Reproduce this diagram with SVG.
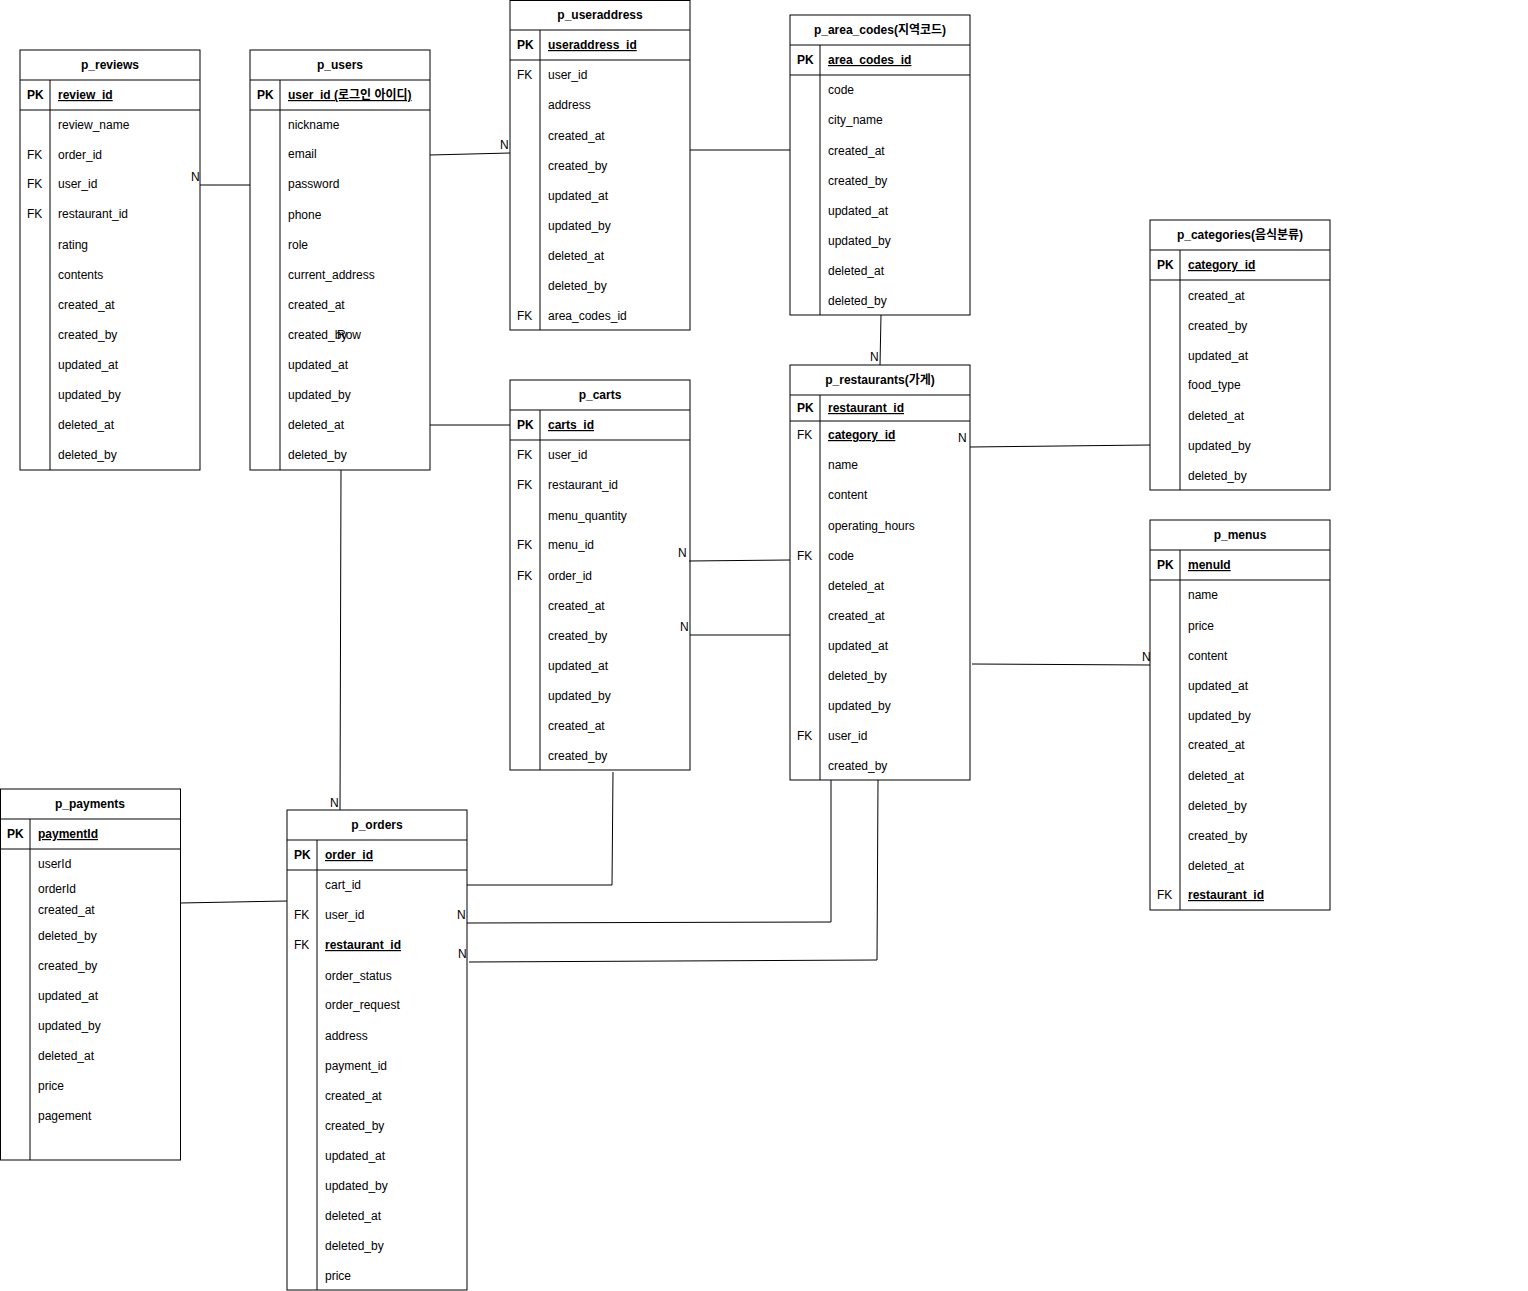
<svg xmlns="http://www.w3.org/2000/svg" width="1528" height="1291" viewBox="0 0 1528 1291">
<style>
text{font-family:"Liberation Sans","Noto Sans CJK KR",Arial,sans-serif;font-size:12px;fill:#000}
.t{font-weight:bold;text-anchor:middle}
.pk{font-weight:bold}
.u{text-decoration:underline}
.b{fill:#fff;stroke:#000;stroke-width:1}
.l{stroke:#000;stroke-width:1;fill:none}
.c{stroke:#000;stroke-width:1;fill:none}
</style>
<rect width="1528" height="1291" fill="#fff"/>
<g id="p_reviews">
<rect class="b" x="20" y="50" width="180" height="420"/>
<path class="l" d="M20 80H200M20 110H200M50 80V470"/>
<text class="t" x="110" y="69">p_reviews</text>
<text class="pk" x="27" y="99">PK</text><text class="pk u" x="58" y="99">review_id</text>
<text x="58" y="129">review_name</text>
<text x="27" y="159">FK</text><text x="58" y="159">order_id</text>
<text x="27" y="188">FK</text><text x="58" y="188">user_id</text>
<text x="27" y="218">FK</text><text x="58" y="218">restaurant_id</text>
<text x="58" y="249">rating</text>
<text x="58" y="279">contents</text>
<text x="58" y="309">created_at</text>
<text x="58" y="339">created_by</text>
<text x="58" y="369">updated_at</text>
<text x="58" y="399">updated_by</text>
<text x="58" y="429">deleted_at</text>
<text x="58" y="459">deleted_by</text>
</g>
<g id="p_users">
<rect class="b" x="250" y="50" width="180" height="420"/>
<path class="l" d="M250 80H430M250 110H430M280 80V470"/>
<text class="t" x="340" y="69">p_users</text>
<text class="pk" x="257" y="99">PK</text><text class="pk u" x="288" y="99">user_id (로그인 아이디)</text>
<text x="288" y="129">nickname</text>
<text x="288" y="158">email</text>
<text x="288" y="188">password</text>
<text x="288" y="219">phone</text>
<text x="288" y="249">role</text>
<text x="288" y="279">current_address</text>
<text x="288" y="309">created_at</text>
<text x="288" y="339">created_by</text><text x="337" y="339">Row</text>
<text x="288" y="369">updated_at</text>
<text x="288" y="399">updated_by</text>
<text x="288" y="429">deleted_at</text>
<text x="288" y="459">deleted_by</text>
</g>
<g id="p_useraddress">
<rect class="b" x="510" y="0.5" width="180" height="329.5"/>
<path class="l" d="M510 30H690M510 60H690M540 30V330"/>
<text class="t" x="600" y="19">p_useraddress</text>
<text class="pk" x="517" y="49">PK</text><text class="pk u" x="548" y="49">useraddress_id</text>
<text x="517" y="79">FK</text><text x="548" y="79">user_id</text>
<text x="548" y="109">address</text>
<text x="548" y="140">created_at</text>
<text x="548" y="170">created_by</text>
<text x="548" y="200">updated_at</text>
<text x="548" y="230">updated_by</text>
<text x="548" y="260">deleted_at</text>
<text x="548" y="290">deleted_by</text>
<text x="517" y="320">FK</text><text x="548" y="320">area_codes_id</text>
</g>
<g id="p_area_codes">
<rect class="b" x="790" y="15" width="180" height="300"/>
<path class="l" d="M790 45H970M790 75H970M820 45V315"/>
<text class="t" x="880" y="34">p_area_codes(지역코드)</text>
<text class="pk" x="797" y="64">PK</text><text class="pk u" x="828" y="64">area_codes_id</text>
<text x="828" y="94">code</text>
<text x="828" y="124">city_name</text>
<text x="828" y="155">created_at</text>
<text x="828" y="185">created_by</text>
<text x="828" y="215">updated_at</text>
<text x="828" y="245">updated_by</text>
<text x="828" y="275">deleted_at</text>
<text x="828" y="305">deleted_by</text>
</g>
<g id="p_categories">
<rect class="b" x="1150" y="220" width="180" height="270"/>
<path class="l" d="M1150 250H1330M1150 280H1330M1180 250V490"/>
<text class="t" x="1240" y="239">p_categories(음식분류)</text>
<text class="pk" x="1157" y="269">PK</text><text class="pk u" x="1188" y="269">category_id</text>
<text x="1188" y="300">created_at</text>
<text x="1188" y="330">created_by</text>
<text x="1188" y="360">updated_at</text>
<text x="1188" y="389">food_type</text>
<text x="1188" y="420">deleted_at</text>
<text x="1188" y="450">updated_by</text>
<text x="1188" y="480">deleted_by</text>
</g>
<g id="p_restaurants">
<rect class="b" x="790" y="365" width="180" height="415"/>
<path class="l" d="M790 395H970M790 421H970M820 395V780"/>
<text class="t" x="880" y="384">p_restaurants(가게)</text>
<text class="pk" x="797" y="412">PK</text><text class="pk u" x="828" y="412">restaurant_id</text>
<text x="797" y="439">FK</text><text class="pk u" x="828" y="439">category_id</text>
<text x="828" y="469">name</text>
<text x="828" y="499">content</text>
<text x="828" y="530">operating_hours</text>
<text x="797" y="560">FK</text><text x="828" y="560">code</text>
<text x="828" y="590">deteled_at</text>
<text x="828" y="620">created_at</text>
<text x="828" y="650">updated_at</text>
<text x="828" y="680">deleted_by</text>
<text x="828" y="710">updated_by</text>
<text x="797" y="740">FK</text><text x="828" y="740">user_id</text>
<text x="828" y="770">created_by</text>
</g>
<g id="p_carts">
<rect class="b" x="510" y="380" width="180" height="390"/>
<path class="l" d="M510 410H690M510 440H690M540 410V770"/>
<text class="t" x="600" y="399">p_carts</text>
<text class="pk" x="517" y="429">PK</text><text class="pk u" x="548" y="429">carts_id</text>
<text x="517" y="459">FK</text><text x="548" y="459">user_id</text>
<text x="517" y="489">FK</text><text x="548" y="489">restaurant_id</text>
<text x="548" y="520">menu_quantity</text>
<text x="517" y="549">FK</text><text x="548" y="549">menu_id</text>
<text x="517" y="580">FK</text><text x="548" y="580">order_id</text>
<text x="548" y="610">created_at</text>
<text x="548" y="640">created_by</text>
<text x="548" y="670">updated_at</text>
<text x="548" y="700">updated_by</text>
<text x="548" y="730">created_at</text>
<text x="548" y="760">created_by</text>
</g>
<g id="p_menus">
<rect class="b" x="1150" y="520" width="180" height="390"/>
<path class="l" d="M1150 550H1330M1150 580H1330M1180 550V910"/>
<text class="t" x="1240" y="539">p_menus</text>
<text class="pk" x="1157" y="569">PK</text><text class="pk u" x="1188" y="569">menuId</text>
<text x="1188" y="599">name</text>
<text x="1188" y="630">price</text>
<text x="1188" y="660">content</text>
<text x="1188" y="690">updated_at</text>
<text x="1188" y="720">updated_by</text>
<text x="1188" y="749">created_at</text>
<text x="1188" y="780">deleted_at</text>
<text x="1188" y="810">deleted_by</text>
<text x="1188" y="840">created_by</text>
<text x="1188" y="870">deleted_at</text>
<text x="1157" y="899">FK</text><text class="pk u" x="1188" y="899">restaurant_id</text>
</g>
<g id="p_payments">
<rect class="b" x="0.5" y="789" width="180" height="371"/>
<path class="l" d="M0 819H180M0 849H180M30 819V1160"/>
<text class="t" x="90" y="808">p_payments</text>
<text class="pk" x="7" y="838">PK</text><text class="pk u" x="38" y="838">paymentId</text>
<text x="38" y="868">userId</text>
<text x="38" y="893">orderId</text>
<text x="38" y="914">created_at</text>
<text x="38" y="940">deleted_by</text>
<text x="38" y="970">created_by</text>
<text x="38" y="1000">updated_at</text>
<text x="38" y="1030">updated_by</text>
<text x="38" y="1060">deleted_at</text>
<text x="38" y="1090">price</text>
<text x="38" y="1120">pagement</text>
</g>
<g id="p_orders">
<rect class="b" x="287" y="810" width="180" height="480"/>
<path class="l" d="M287 840H467M287 870H467M317 840V1290"/>
<text class="t" x="377" y="829">p_orders</text>
<text class="pk" x="294" y="859">PK</text><text class="pk u" x="325" y="859">order_id</text>
<text x="325" y="889">cart_id</text>
<text x="294" y="919">FK</text><text x="325" y="919">user_id</text>
<text x="294" y="949">FK</text><text class="pk u" x="325" y="949">restaurant_id</text>
<text x="325" y="980">order_status</text>
<text x="325" y="1009">order_request</text>
<text x="325" y="1040">address</text>
<text x="325" y="1070">payment_id</text>
<text x="325" y="1100">created_at</text>
<text x="325" y="1130">created_by</text>
<text x="325" y="1160">updated_at</text>
<text x="325" y="1190">updated_by</text>
<text x="325" y="1220">deleted_at</text>
<text x="325" y="1250">deleted_by</text>
<text x="325" y="1280">price</text>
</g>
<g id="connectors">
<path class="c" d="M200 185H250"/>
<path class="c" d="M430 155L510 153"/>
<path class="c" d="M690 150H790"/>
<path class="c" d="M430 425H510"/>
<path class="c" d="M881 315L880 365"/>
<path class="c" d="M970 447L1150 445"/>
<path class="c" d="M689 561L790 560"/>
<path class="c" d="M690 635H790"/>
<path class="c" d="M972 664L1150 665"/>
<path class="c" d="M341 470L340 810"/>
<path class="c" d="M180 903L287 901"/>
<path class="c" d="M613 772L612 885H467"/>
<path class="c" d="M831 780V922L467 923"/>
<path class="c" d="M878 780L877 960L469 962"/>
<text x="191" y="181">N</text>
<text x="500" y="149">N</text>
<text x="870" y="361">N</text>
<text x="958" y="442">N</text>
<text x="678" y="557">N</text>
<text x="680" y="631">N</text>
<text x="1142" y="661">N</text>
<text x="330" y="807">N</text>
<text x="457" y="919">N</text>
<text x="458" y="958">N</text>
</g>
</svg>
